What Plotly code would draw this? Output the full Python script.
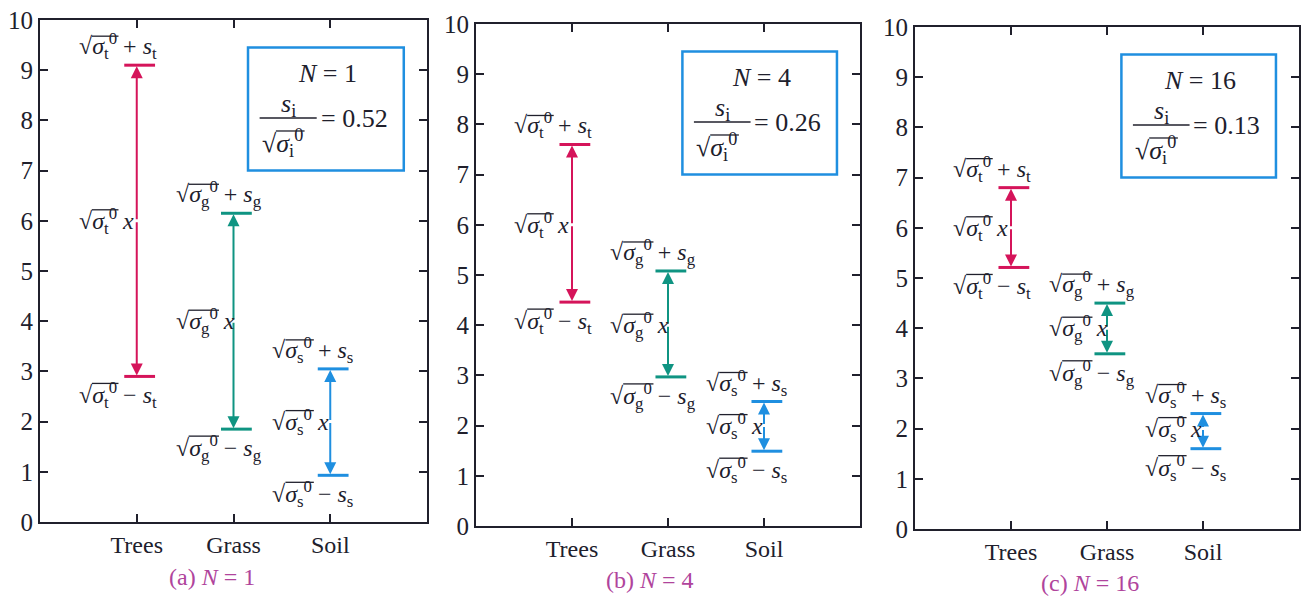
import plotly.graph_objects as go

categories = ["Trees", "Grass", "Soil"]
cat_keys = ["t", "g", "s"]
cat_colors = ["#d5145a", "#0f9482", "#1f8fe0"]
looks = ["1", "4", "16"]
ratios = ["0.52", "0.26", "0.13"]
panel_letters = ["a", "b", "c"]

means = [6.0, 4.0, 2.0]
upper_a = [9.1, 6.15, 3.05]
lower_a = [2.9, 1.85, 0.93]
upper_b = [7.6, 5.08, 2.48]
lower_b = [4.46, 2.97, 1.49]
upper_c = [6.8, 4.5, 2.3]
lower_c = [5.21, 3.49, 1.6]
uppers = [upper_a, upper_b, upper_c]
lowers = [lower_a, lower_b, lower_c]

y_ticks = list(range(0, 11))

W, H = 1316, 599
OFF = 8  # page body margin
# panel pixel frames (page coords): left, right, top, bottom
frames = [(40, 427, 20, 522), (476, 860, 24, 526), (915, 1299, 27, 529)]
sub_pos = [(212, 577), (650, 580), (1090, 583)]

INK = "#20202c"
BOX = "#1f8fe0"
SUBC = "#b0449c"
FONT = "Liberation Serif, Times New Roman, serif"
LFS = 24  # label font size

# approximate glyph widths (em) used for the radical overbar
SUBW = {"t": 0.278, "g": 0.5, "s": 0.389, "i": 0.278}


def px_x(v):
    return (v - OFF) / W


def px_y(v):
    return 1 - (v - OFF) / H


def bar_len(k, fs):
    return 0.52 * fs + SUBW[k] * 0.7 * fs + 0.5 * 0.7 * fs + 1


fig = go.Figure()
annotations = []
shapes = []


def root(k):
    return "√<i>σ</i><sub>%s</sub><sup>0</sup>" % k


def overbar(xs, ys, xa, ya, dx0, dy, k, fs):
    shapes.append(dict(type="line", xref=xs, yref=ys, xsizemode="pixel",
                       ysizemode="pixel", xanchor=xa, yanchor=ya,
                       x0=dx0, x1=dx0 + bar_len(k, fs), y0=dy, y1=dy,
                       line=dict(color=INK, width=1.3)))


XSH = -60  # label left edge relative to category (px)
ROOTW = 0.549 * LFS + 2

for p in range(3):
    xs = "x" if p == 0 else "x%d" % (p + 1)
    ys = "y" if p == 0 else "y%d" % (p + 1)
    l, r, t, b = frames[p]
    ax_x = dict(domain=[px_x(l), px_x(r)], range=[-1, 3], tickvals=[0, 1, 2],
                ticktext=categories, ticks="inside", ticklen=8, tickwidth=2,
                tickcolor=INK, showline=True, linewidth=2, linecolor=INK,
                mirror="ticks", showgrid=False, zeroline=False,
                automargin=False, ticklabelstandoff=0,
                ticklabeloverflow="allow",
                tickfont=dict(family=FONT, size=24, color=INK), anchor=ys)
    ax_y = dict(domain=[px_y(b), px_y(t)], range=[0, 10], tickvals=y_ticks,
                ticks="inside", ticklen=8, tickwidth=2, tickcolor=INK,
                showline=True, linewidth=2, linecolor=INK, mirror="ticks",
                showgrid=False, zeroline=False, automargin=False,
                ticklabelstandoff=0, ticklabeloverflow="allow",
                tickfont=dict(family=FONT, size=25, color=INK), anchor=xs)
    fig.layout["xaxis" if p == 0 else "xaxis%d" % (p + 1)] = ax_x
    fig.layout["yaxis" if p == 0 else "yaxis%d" % (p + 1)] = ax_y

    for i in range(3):
        col = cat_colors[i]
        k = cat_keys[i]
        up, lo, m = uppers[p][i], lowers[p][i], means[i]
        fig.add_trace(go.Scatter(
            x=[i + 0.03, i + 0.03], y=[up, lo], xaxis=xs, yaxis=ys,
            mode="markers", showlegend=False, hoverinfo="skip",
            marker=dict(symbol="line-ew", size=22,
                        line=dict(width=3, color=col))))
        for end in (up, lo):
            annotations.append(dict(
                x=i, y=end, ax=i, ay=m, xref=xs, yref=ys, axref=xs, ayref=ys,
                text="", showarrow=True, arrowhead=2, arrowsize=1.2,
                arrowwidth=2, arrowcolor=col, standoff=1))
        lab_font = dict(family=FONT, size=LFS, color=INK)
        annotations.append(dict(
            x=i, y=up, xref=xs, yref=ys, xanchor="left", yanchor="bottom",
            xshift=XSH, text=root(k) + " + <i>s</i><sub>%s</sub>" % k,
            showarrow=False, font=lab_font))
        overbar(xs, ys, i, up, XSH + ROOTW, 29, k, LFS)
        annotations.append(dict(
            x=i, y=m, xref=xs, yref=ys, xanchor="left", yanchor="middle",
            xshift=XSH, text=root(k) + " <i>x</i>", showarrow=False,
            font=lab_font))
        overbar(xs, ys, i, m, XSH + ROOTW, 11, k, LFS)
        annotations.append(dict(
            x=i, y=lo, xref=xs, yref=ys, xanchor="left", yanchor="top",
            xshift=XSH, text=root(k) + " − <i>s</i><sub>%s</sub>" % k,
            showarrow=False, font=lab_font))
        overbar(xs, ys, i, lo, XSH + ROOTW, -7, k, LFS)

    # info box
    shapes.append(dict(type="rect", xref=xs, yref=ys, x0=1.15, x1=2.76,
                       y0=7.0, y1=9.45, line=dict(color=BOX, width=2.5)))
    shapes.append(dict(type="line", xref=xs, yref=ys, x0=1.27, x1=1.86,
                       y0=8.05, y1=8.05, line=dict(color=INK, width=1.5)))
    bf = dict(family=FONT, size=26, color=INK)
    annotations.append(dict(x=1.97, y=8.93, xref=xs, yref=ys,
                            text="<i>N</i> = %s" % looks[p],
                            showarrow=False, font=bf))
    annotations.append(dict(x=1.57, y=8.3, xref=xs, yref=ys,
                            text="<i>s</i><sub>i</sub>",
                            showarrow=False, font=bf))
    annotations.append(dict(x=1.27, y=7.55, xref=xs, yref=ys, xanchor="left",
                            text=root("i"), showarrow=False, font=bf))
    overbar(xs, ys, 1.27, 7.55, 0.549 * 26 + 2, 12, "i", 26)
    annotations.append(dict(x=1.88, y=8.03, xref=xs, yref=ys, xanchor="left",
                            text="= %s" % ratios[p],
                            showarrow=False, font=bf))
    # subtitle
    sx, sy = sub_pos[p]
    annotations.append(dict(x=px_x(sx), y=px_y(sy), xref="paper", yref="paper",
                            xanchor="center", yanchor="middle",
                            text="(%s) <i>N</i> = %s" % (panel_letters[p], looks[p]),
                            showarrow=False,
                            font=dict(family=FONT, size=24, color=SUBC)))

fig.update_layout(width=W, height=H, margin=dict(l=0, r=0, t=0, b=0),
                  paper_bgcolor="white", plot_bgcolor="white",
                  annotations=annotations, shapes=shapes, showlegend=False)

fig.write_html("out.html")
